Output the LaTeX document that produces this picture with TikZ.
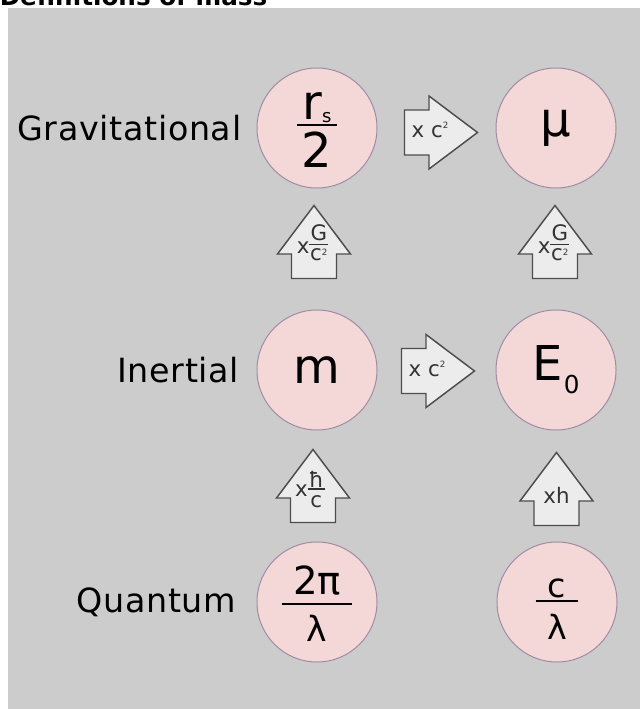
\documentclass[tikz,border=0pt]{standalone}
\usepackage{fontspec}
\setmainfont{DejaVu Sans}
\newfontfamily\lblfont[LetterSpace=2.0]{DejaVu Sans}
\usetikzlibrary{calc,positioning}

\definecolor{bggray}{RGB}{204,204,204}
\definecolor{pinkfill}{RGB}{244,215,215}
\definecolor{ringline}{RGB}{160,140,165}
\definecolor{arrowfill}{RGB}{236,236,236}
\definecolor{arrowline}{RGB}{77,77,77}
\definecolor{labeltext}{RGB}{51,51,51}

\newcommand{\frc}[6][1.5pt]{%
  \vbox{\offinterlineskip\halign{\hfil##\hfil\cr#3\cr\noalign{\kern#5}\rule{#2}{#1}\cr}}%
  \llap{\vtop{\kern#6\hbox to #2{\hss#4\hss}}}}

\begin{document}
\begin{tikzpicture}[x=0.75pt,y=-0.75pt,node distance=88.5pt]
  \tikzstyle{circ}=[circle,draw=ringline,fill=pinkfill,line width=0.75pt,minimum size=90pt,inner sep=0pt,font={\fontsize{36}{40}\selectfont}]
  \tikzstyle{flat}=[text height=0pt,text depth=0pt]
  \tikzstyle{lbl}=[inner sep=0pt,font={\lblfont\fontsize{25}{30}\selectfont}]
  \tikzstyle{blk}=[draw=arrowline,fill=arrowfill,line width=1.1pt]
  \tikzstyle{albl}=[inner sep=0pt,text=labeltext,text height=0pt,text depth=0pt,font={\fontsize{16}{18}\selectfont}]

  \useasboundingbox (0,0) rectangle (640,709);
  \fill[bggray] (8,8) rectangle (640,709);
  \node[anchor=base west,inner sep=0pt,font={\bfseries\fontsize{18.5}{20}\selectfont}] (title) at (-0.5,6) {Definitions of mass};

  \node[circ,flat] (rs) at (317,128) {\raisebox{1.5pt}{\frc{30pt}{r\raisebox{-2.25pt}{\fontsize{13.5}{14}\selectfont s}}{2}{0.75pt}{4.5pt}}};
  \node[circ,right=of rs] (mu) {μ};
  \node[circ,below=90.75pt of rs] (mass) {m};
  \node[circ,right=of mass] (ezero) {E\hspace{1pt}\raisebox{-9.75pt}{\fontsize{18.5}{20}\selectfont 0}};
  \node[circ,flat,below=83.25pt of mass] (wave) {\raisebox{-2.25pt}{\frc{53pt}{\fontsize{29}{30}\selectfont 2π}{\fontsize{26}{28}\selectfont λ}{6pt}{7.5pt}}};
  \node[circ,flat,right=89.25pt of wave] (freq) {\frc{32pt}{\fontsize{25}{26}\selectfont c}{\fontsize{25}{28}\selectfont λ}{1.5pt}{9pt}};

  \node[lbl,left=11.25pt of rs] (grav) {Gravitational};
  \node[lbl,left=12.75pt of mass] (inert) {Inertial};
  \node[lbl,left=15pt of wave] (quant) {Quantum};

  \coordinate (rg) at ($(rs)!0.5!(mu)+(4.5,4.5)$);
  \coordinate (ri) at ($(mass)!0.5!(ezero)+(1.5,1)$);
  \coordinate (ul) at ($(rs)!0.5!(mass)+(-3,-7)$);
  \coordinate (ur) at ($(mu)!0.5!(ezero)+(-1,-7)$);
  \coordinate (ql) at ($(mass)!0.5!(wave)+(-4,0)$);
  \coordinate (qr) at ($(ezero)!0.5!(freq)+(0,3)$);
  \foreach \c/\a in {rg/0,ri/0,ul/90,ur/90,ql/90,qr/90}
    \draw[blk,shift={(\c)},rotate=\a] (-36.5,-22.5) -- (-12,-22.5) -- (-12,-36.5) -- (36.5,0) -- (-12,36.5) -- (-12,22.5) -- (-36.5,22.5) -- cycle;

  \node[albl] (xcg) at ($(rg)+(-11,5.5)$) {x c\smash{\raisebox{7pt}{\fontsize{6.5}{7}\selectfont 2}}};
  \node[albl] (xci) at ($(ri)+(-11,5.5)$) {x c\smash{\raisebox{7pt}{\fontsize{6.5}{7}\selectfont 2}}};
  \node[albl] (xgl) at ($(ul)+(-1.5,2.5)$) {\raisebox{-6.75pt}{x}\frc[0.6pt]{14pt}{G}{c\smash{\raisebox{4pt}{\fontsize{6.5}{7}\selectfont 2}}}{2.5pt}{3pt}};
  \node[albl] (xgr) at ($(ur)+(-1.5,2.5)$) {\raisebox{-6.75pt}{x}\frc[0.6pt]{14pt}{G}{c\smash{\raisebox{4pt}{\fontsize{6.5}{7}\selectfont 2}}}{2.5pt}{3pt}};
  \node[albl] (xhl) at ($(ql)+(-3,3.5)$) {\raisebox{-5.25pt}{x}\frc[0.8pt]{13pt}{ħ}{c}{1pt}{4.5pt}};
  \node[albl] (xhr) at ($(qr)+(0,14.5)$) {xh};
\end{tikzpicture}
\end{document}
